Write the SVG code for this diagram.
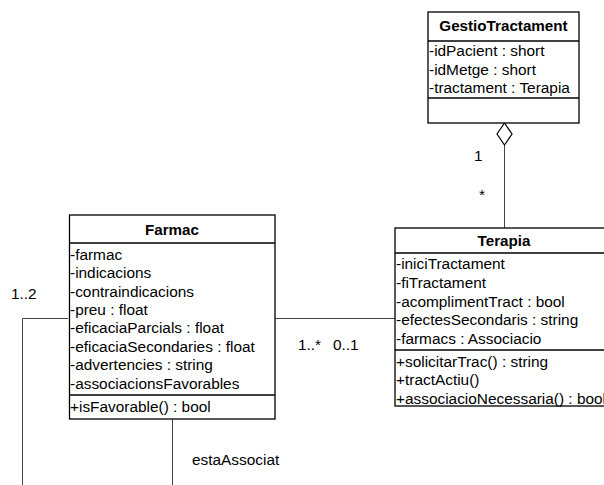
<svg xmlns="http://www.w3.org/2000/svg" width="604" height="485" viewBox="0 0 604 485">
  <style>
    .box { fill: #ffffff; stroke: #000000; stroke-width: 1.3; }
    .sep { stroke: #000000; stroke-width: 1.3; }
    .txt { font-family: "Liberation Sans", Arial, sans-serif; font-size: 15.4px; fill: #000000; }
    .title { font-family: "Liberation Sans", Arial, sans-serif; font-size: 15.2px; font-weight: bold; fill: #000000; text-anchor: middle; }
    .conn { fill: none; stroke: #444444; stroke-width: 1; }
  </style>
  <rect width="604" height="485" fill="#ffffff"/>

  <!-- connectors -->
  <g id="connectors">
    <line class="conn" x1="504.5" y1="145" x2="504.5" y2="228"/>
    <polygon points="504.5,123 512,134 504.5,145 497,134" fill="#ffffff" stroke="#000000" stroke-width="1.2"/>
    <line class="conn" x1="275" y1="318.5" x2="395" y2="318.5"/>
    <polyline class="conn" points="68,318.5 22.5,318.5 22.5,485"/>
    <line class="conn" x1="172.5" y1="419" x2="172.5" y2="485"/>
    <text class="txt" x="474" y="161">1</text>
    <text class="txt" x="479" y="200">*</text>
    <text class="txt" x="11" y="299">1..2</text>
    <text class="txt" x="298" y="350">1..*</text>
    <text class="txt" x="333" y="350">0..1</text>
    <text class="txt" x="192" y="465">estaAssociat</text>
  </g>

  <!-- GestioTractament -->
  <g id="GestioTractament">
    <rect class="box" x="428" y="12" width="151" height="111"/>
    <line class="sep" x1="428" y1="41" x2="579" y2="41"/>
    <line class="sep" x1="428" y1="98" x2="579" y2="98"/>
    <text class="title" x="503.5" y="31">GestioTractament</text>
    <text class="txt" x="429" y="56">-idPacient : short</text>
    <text class="txt" x="429" y="75">-idMetge : short</text>
    <text class="txt" x="429" y="93">-tractament : Terapia</text>
  </g>

  <!-- Terapia -->
  <g id="Terapia">
    <rect class="box" x="395" y="228" width="220" height="178"/>
    <line class="sep" x1="395" y1="253" x2="604" y2="253"/>
    <line class="sep" x1="395" y1="350" x2="604" y2="350"/>
    <text class="title" x="504" y="246">Terapia</text>
    <text class="txt" x="396" y="269">-iniciTractament</text>
    <text class="txt" x="396" y="288">-fiTractament</text>
    <text class="txt" x="396" y="307">-acomplimentTract : bool</text>
    <text class="txt" x="396" y="325">-efectesSecondaris : string</text>
    <text class="txt" x="396" y="344">-farmacs : Associacio</text>
    <text class="txt" x="396" y="367">+solicitarTrac() : string</text>
    <text class="txt" x="396" y="385">+tractActiu()</text>
    <text class="txt" x="396" y="404">+associacioNecessaria() : bool</text>
  </g>

  <!-- Farmac -->
  <g id="Farmac">
    <rect class="box" x="69.5" y="215" width="205.5" height="204"/>
    <line class="sep" x1="69.5" y1="243" x2="275" y2="243"/>
    <line class="sep" x1="69.5" y1="395" x2="275" y2="395"/>
    <text class="title" x="172" y="235">Farmac</text>
    <text class="txt" x="70" y="260">-farmac</text>
    <text class="txt" x="70" y="278">-indicacions</text>
    <text class="txt" x="70" y="297">-contraindicacions</text>
    <text class="txt" x="70" y="315">-preu : float</text>
    <text class="txt" x="70" y="333">-eficaciaParcials : float</text>
    <text class="txt" x="70" y="352">-eficaciaSecondaries : float</text>
    <text class="txt" x="70" y="370">-advertencies : string</text>
    <text class="txt" x="70" y="389">-associacionsFavorables</text>
    <text class="txt" x="70" y="412">+isFavorable() : bool</text>
  </g>
</svg>
